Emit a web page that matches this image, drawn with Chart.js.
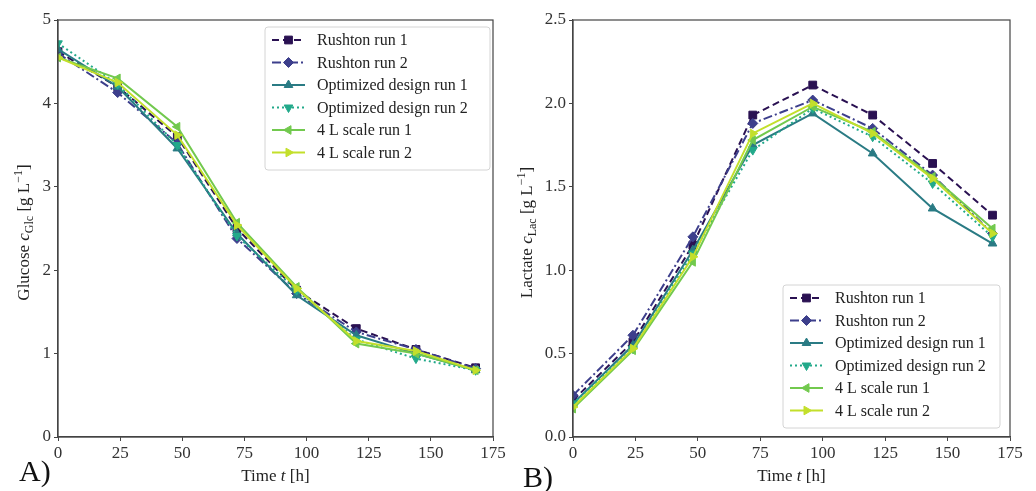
<!DOCTYPE html>
<html>
<head>
<meta charset="utf-8">
<script src="https://cdn.jsdelivr.net/npm/chart.js@4.4.1/dist/chart.umd.min.js"></script>
<style>
  html, body { margin: 0; padding: 0; background: #fff; }
  #wrap { position: relative; width: 1036px; height: 491px; overflow: hidden; }
  .panel { position: absolute; top: 0; height: 491px; }
</style>
</head>
<body>
<div id="wrap">
  <div class="panel" style="left:0;width:515px"><canvas id="cA" width="515" height="491"></canvas></div>
  <div class="panel" style="left:515px;width:521px"><canvas id="cB" width="521" height="491"></canvas></div>
</div>
<script>
// ---------------- data ----------------
const hours = [0, 24, 48, 72, 96, 120, 144, 168];
const seriesNames = ["Rushton run 1", "Rushton run 2", "Optimized design run 1",
                     "Optimized design run 2", "4 L scale run 1", "4 L scale run 2"];

const glcRushton1 = [4.62, 4.20, 3.60, 2.50, 1.76, 1.30, 1.05, 0.83];
const glcRushton2 = [4.60, 4.13, 3.52, 2.38, 1.72, 1.26, 1.05, 0.82];
const glcOptimized1 = [4.65, 4.20, 3.46, 2.44, 1.70, 1.22, 1.00, 0.80];
const glcOptimized2 = [4.72, 4.23, 3.50, 2.41, 1.76, 1.17, 0.94, 0.80];
const glcScale1 = [4.55, 4.30, 3.72, 2.57, 1.80, 1.12, 1.00, 0.80];
const glcScale2 = [4.55, 4.25, 3.62, 2.54, 1.78, 1.15, 1.03, 0.80];

const lacRushton1 = [0.22, 0.57, 1.15, 1.93, 2.11, 1.93, 1.64, 1.33];
const lacRushton2 = [0.25, 0.61, 1.20, 1.88, 2.02, 1.85, 1.57, 1.22];
const lacOptimized1 = [0.20, 0.55, 1.12, 1.75, 1.94, 1.70, 1.37, 1.16];
const lacOptimized2 = [0.20, 0.53, 1.10, 1.72, 1.97, 1.80, 1.52, 1.20];
const lacScale1 = [0.17, 0.52, 1.05, 1.78, 1.98, 1.83, 1.56, 1.25];
const lacScale2 = [0.18, 0.53, 1.08, 1.82, 2.00, 1.82, 1.55, 1.22];

const glcTicks = [0, 1, 2, 3, 4, 5];
const lacTicks = [0.0, 0.5, 1.0, 1.5, 2.0, 2.5];
const timeTicks = [0, 25, 50, 75, 100, 125, 150, 175];

// ---------------- styles ----------------
const styles = [
  { color: "#2a1152", dash: [7, 4], pointStyle: "rect", rotation: 0, radius: 5.5 },
  { color: "#3d3f8c", dash: [9, 3, 2, 3], pointStyle: "rectRot", rotation: 0, radius: 5 },
  { color: "#2a7b84", dash: [], pointStyle: "triangle", rotation: 0, radius: 5 },
  { color: "#22a98a", dash: [2, 3], pointStyle: "triangle", rotation: 180, radius: 5 },
  { color: "#72c94e", dash: [], pointStyle: "triangle", rotation: -90, radius: 5 },
  { color: "#c3df2b", dash: [], pointStyle: "triangle", rotation: 90, radius: 5 }
];

const SERIF = "'Liberation Serif', 'DejaVu Serif', serif";

function buildDatasets(arrays) {
  return arrays.map((vals, i) => ({
    label: seriesNames[i],
    data: hours.map((h, k) => ({ x: h, y: vals[k] })),
    borderColor: styles[i].color,
    backgroundColor: styles[i].color,
    borderWidth: 2,
    borderDash: styles[i].dash,
    pointStyle: styles[i].pointStyle,
    pointRotation: styles[i].rotation,
    pointRadius: styles[i].radius,
    pointBorderWidth: 1,
    pointBorderColor: styles[i].color,
    pointBackgroundColor: styles[i].color,
    tension: 0,
    order: 10 - i,
    fill: false
  }));
}

// frame (top/right spines) plugin
const framePlugin = {
  id: "frame",
  afterDraw(chart) {
    const { ctx, chartArea: a } = chart;
    ctx.save();
    ctx.strokeStyle = "#444";
    ctx.lineWidth = 1.2;
    ctx.strokeRect(a.left, a.top, a.right - a.left, a.bottom - a.top);
    ctx.restore();
  }
};

// mixed-font text helper
function drawSegments(ctx, segs, cx, cy, rotate) {
  ctx.save();
  ctx.translate(cx, cy);
  if (rotate) ctx.rotate(-Math.PI / 2);
  let total = 0;
  segs.forEach(s => { ctx.font = s.font; total += ctx.measureText(s.text).width; });
  let x = -total / 2;
  ctx.fillStyle = "#222";
  ctx.textBaseline = "alphabetic";
  segs.forEach(s => {
    ctx.font = s.font;
    ctx.fillText(s.text, x, s.dy || 0);
    x += ctx.measureText(s.text).width;
  });
  ctx.restore();
}

const titlesPlugin = {
  id: "titles",
  afterDraw(chart, args, opts) {
    const { ctx, chartArea: a } = chart;
    const f = "17px " + SERIF, fi = "italic 17px " + SERIF, fs = "12px " + SERIF;
    // x title
    drawSegments(ctx, [
      { text: "Time ", font: f }, { text: "t", font: fi }, { text: " [h]", font: f }
    ], (a.left + a.right) / 2, 481, false);
    // y title
    drawSegments(ctx, [
      { text: opts.yName + " ", font: f }, { text: "c", font: fi },
      { text: opts.ySub, font: fs, dy: 4 }, { text: " [g L", font: f },
      { text: "\u22121", font: fs, dy: -7 }, { text: "]", font: f }
    ], opts.yTitleX, (a.top + a.bottom) / 2 + 4, true);
    // panel label
    ctx.save();
    ctx.fillStyle = "#111";
    ctx.font = "30px " + SERIF;
    ctx.textBaseline = "alphabetic";
    ctx.fillText(opts.panel, opts.panelX, opts.panelY);
    ctx.restore();
  }
};

// legend with line + marker
const lineLegendPlugin = {
  id: "lineLegend",
  afterDraw(chart, args, opts) {
    const { ctx, chartArea: a } = chart;
    const ds = chart.data.datasets;
    const w = opts.width, rowH = 22.5, h = ds.length * rowH + 8;
    const x0 = a.right - opts.inset - w;
    const y0 = opts.corner === "top" ? a.top + opts.insetY : a.bottom - opts.insetY - h;
    ctx.save();
    ctx.fillStyle = "rgba(255,255,255,0.85)";
    ctx.strokeStyle = "#d4d4d4";
    ctx.lineWidth = 1;
    ctx.beginPath();
    ctx.roundRect(x0, y0, w, h, 3);
    ctx.fill();
    ctx.stroke();
    ds.forEach((d, i) => {
      const y = y0 + 13 + i * rowH;
      const lx0 = x0 + 7, lx1 = x0 + 40;
      ctx.strokeStyle = d.borderColor;
      ctx.fillStyle = d.borderColor;
      ctx.lineWidth = 2;
      ctx.setLineDash(d.borderDash);
      ctx.beginPath();
      ctx.moveTo(lx0, y);
      ctx.lineTo(lx1, y);
      ctx.stroke();
      ctx.setLineDash([]);
      ctx.lineWidth = 1;
      Chart.helpers.drawPoint(ctx, {
        pointStyle: d.pointStyle, rotation: d.pointRotation,
        radius: d.pointRadius, borderWidth: 1
      }, (lx0 + lx1) / 2, y);
      ctx.fillStyle = "#222";
      ctx.font = "16px " + SERIF;
      ctx.textBaseline = "middle";
      ctx.fillText(d.label, x0 + 52, y + 1);
    });
    ctx.restore();
  }
};

function makeChart(canvasId, datasets, yMax, yTicks, decimals, extra) {
  return new Chart(document.getElementById(canvasId), {
    type: "line",
    data: { datasets },
    options: {
      responsive: false,
      animation: false,
      layout: { padding: { left: 0, right: extra.padRight, top: 20, bottom: 0 } },
      plugins: {
        legend: { display: false },
        tooltip: { enabled: false },
        titles: extra.titles,
        lineLegend: extra.legend
      },
      scales: {
        x: {
          type: "linear", min: 0, max: 175,
          afterBuildTicks: s => { s.ticks = timeTicks.map(v => ({ value: v })); },
          afterFit: s => { s.height = 54; },
          grid: { drawOnChartArea: false, drawTicks: true, tickLength: 4, color: "#444", tickWidth: 1 },
          border: { color: "#444", width: 1.2 },
          ticks: { color: "#333", font: { family: SERIF, size: 17 }, padding: 2, maxRotation: 0, autoSkip: false }
        },
        y: {
          type: "linear", min: 0, max: yMax,
          afterBuildTicks: s => { s.ticks = yTicks.map(v => ({ value: v })); },
          afterFit: s => { s.width = 58; },
          grid: { drawOnChartArea: false, drawTicks: true, tickLength: 4, color: "#444", tickWidth: 1 },
          border: { color: "#444", width: 1.2 },
          ticks: {
            color: "#333", font: { family: SERIF, size: 17 }, padding: 3,
            callback: v => Number(v).toFixed(decimals)
          }
        }
      }
    },
    plugins: [framePlugin, titlesPlugin, lineLegendPlugin]
  });
}

makeChart("cA",
  buildDatasets([glcRushton1, glcRushton2, glcOptimized1, glcOptimized2, glcScale1, glcScale2]),
  5, glcTicks, 0,
  {
    padRight: 22,
    titles: { yName: "Glucose", ySub: "Glc", yTitleX: 29, panel: "A)", panelX: 19, panelY: 481 },
    legend: { corner: "top", width: 225, inset: 3, insetY: 7 }
  });

makeChart("cB",
  buildDatasets([lacRushton1, lacRushton2, lacOptimized1, lacOptimized2, lacScale1, lacScale2]),
  2.5, lacTicks, 1,
  {
    padRight: 26,
    titles: { yName: "Lactate", ySub: "Lac", yTitleX: 17, panel: "B)", panelX: 8, panelY: 487 },
    legend: { corner: "bottom", width: 217, inset: 10, insetY: 9 }
  });
</script>
</body>
</html>
